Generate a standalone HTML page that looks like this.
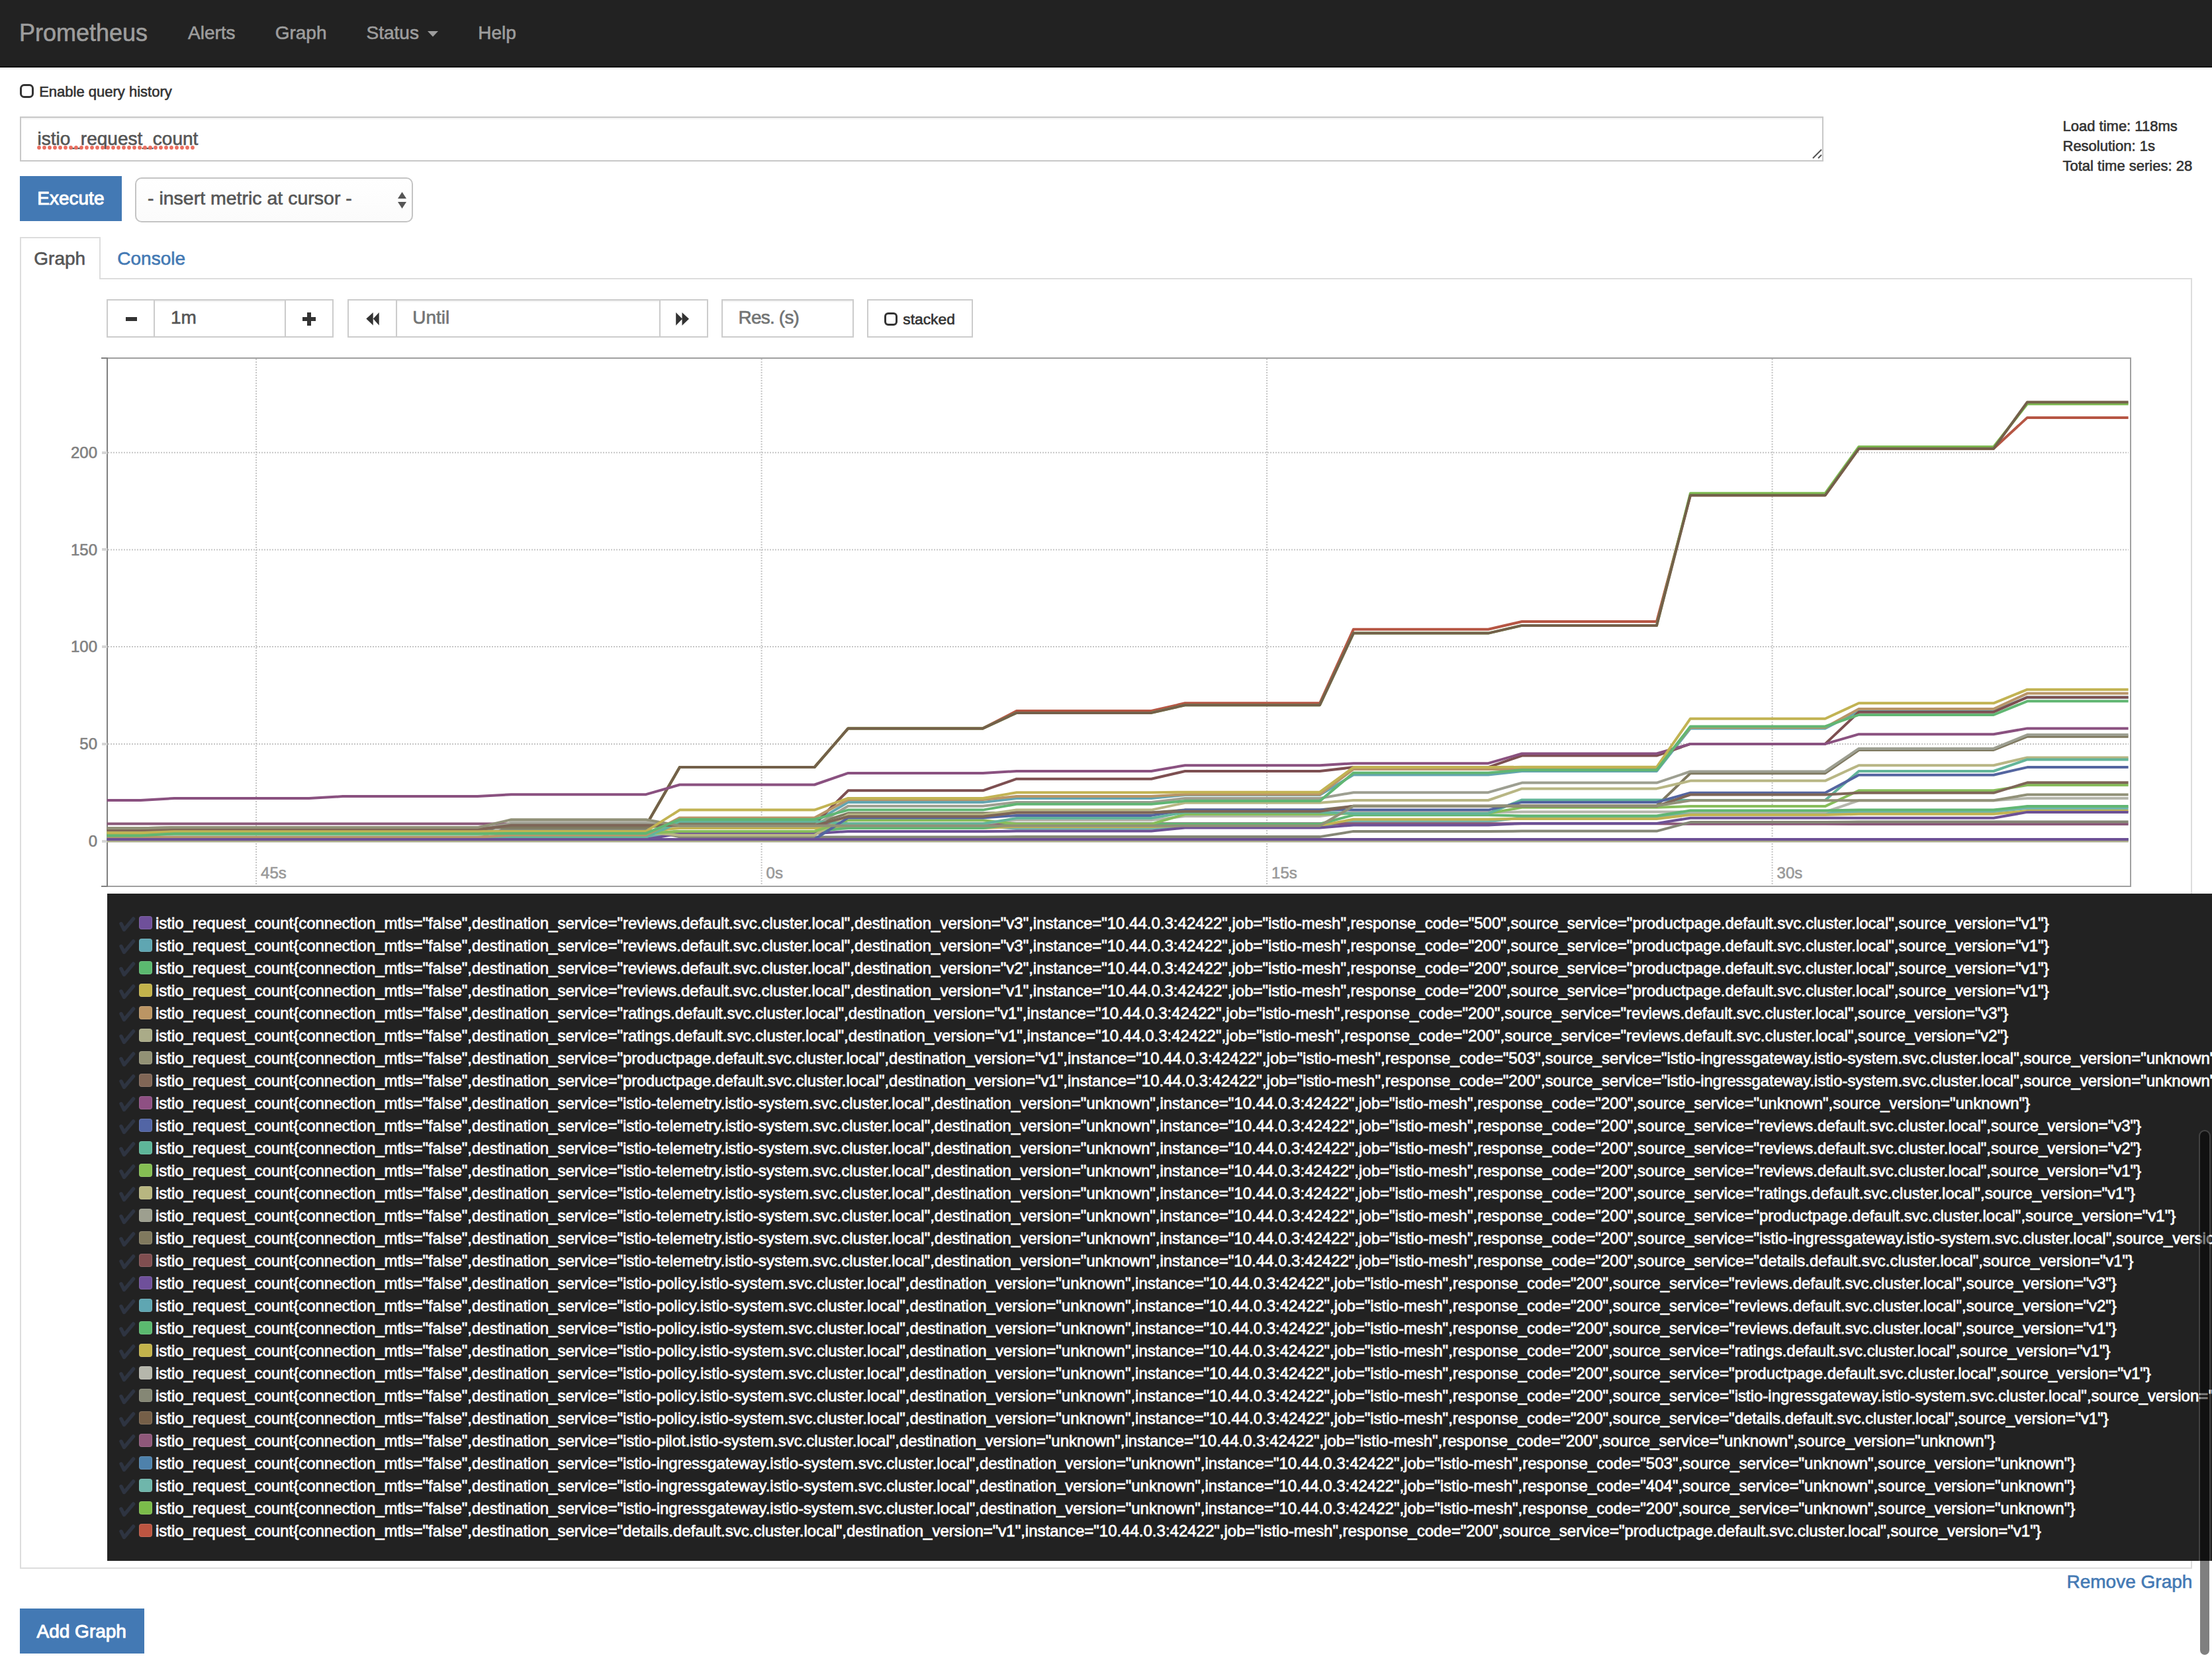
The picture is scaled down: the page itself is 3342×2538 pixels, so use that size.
<!DOCTYPE html>
<html><head><meta charset="utf-8"><style>
html,body{margin:0;padding:0;width:3342px;height:2538px;overflow:hidden;background:#fff;}
body{position:relative;font-family:"Liberation Sans", sans-serif;}
.t{position:absolute;white-space:nowrap;line-height:1;font-family:"Liberation Sans", sans-serif;-webkit-text-stroke:0.6px currentColor;}
.lr{position:absolute;left:235px;height:34px;line-height:34px;white-space:nowrap;font-size:24px;color:#fff;font-family:"Liberation Sans", sans-serif;-webkit-text-stroke:0.8px #fff;}
.ck{display:inline-block;width:32px;color:#34495e;opacity:.8;font-size:26px;}
.sw{position:absolute;left:210px;width:20px;height:20px;border-radius:4px;box-sizing:border-box;border:1px solid rgba(255,255,255,0.12);filter:saturate(0.85);}
</style></head><body>
<div style="position:absolute;left:0px;top:0px;width:3342px;height:100px;background:#222"></div><div style="position:absolute;left:0px;top:100px;width:3342px;height:2px;background:#080808"></div><div class="t" style="left:29px;top:31.93px;font-size:36px;color:#9d9d9d;">Prometheus</div><div class="t" style="left:284px;top:36.30px;font-size:28px;color:#9d9d9d;">Alerts</div><div class="t" style="left:415.7px;top:36.30px;font-size:28px;color:#9d9d9d;">Graph</div><div class="t" style="left:553.5px;top:36.30px;font-size:28px;color:#9d9d9d;">Status</div><svg style="position:absolute;left:646px;top:47px" width="16" height="9"><path d="M0,0H16L8,8.5Z" fill="#9d9d9d"/></svg><div class="t" style="left:722.3px;top:36.30px;font-size:28px;color:#9d9d9d;">Help</div><div style="position:absolute;left:30px;top:127.3px;width:20.700000000000003px;height:20.500000000000014px;box-sizing:border-box;border:3.6px solid #333;border-radius:6.5px;background:#fff"></div><div class="t" style="left:59.2px;top:127.88px;font-size:22px;color:#333;">Enable query history</div><div style="position:absolute;left:30px;top:176px;width:2725px;height:68px;box-sizing:border-box;border:2px solid #c8c8c8;background:#fff;box-shadow:inset 0 2px 2px rgba(0,0,0,.06)"></div><div class="t" style="left:56.5px;top:196.10px;font-size:28px;color:#555;">istio_request_count</div><svg style="position:absolute;left:0;top:220px" width="320" height="7"><g fill="#ea6f60"><circle cx="59" cy="3" r="2.9"/><circle cx="67" cy="3" r="2.9"/><circle cx="75" cy="3" r="2.9"/><circle cx="83" cy="3" r="2.9"/><circle cx="91" cy="3" r="2.9"/><circle cx="99" cy="3" r="2.9"/><circle cx="107" cy="3" r="2.9"/><circle cx="115" cy="3" r="2.9"/><circle cx="123" cy="3" r="2.9"/><circle cx="131" cy="3" r="2.9"/><circle cx="139" cy="3" r="2.9"/><circle cx="147" cy="3" r="2.9"/><circle cx="155" cy="3" r="2.9"/><circle cx="163" cy="3" r="2.9"/><circle cx="171" cy="3" r="2.9"/><circle cx="179" cy="3" r="2.9"/><circle cx="187" cy="3" r="2.9"/><circle cx="195" cy="3" r="2.9"/><circle cx="203" cy="3" r="2.9"/><circle cx="211" cy="3" r="2.9"/><circle cx="219" cy="3" r="2.9"/><circle cx="227" cy="3" r="2.9"/><circle cx="235" cy="3" r="2.9"/><circle cx="243" cy="3" r="2.9"/><circle cx="251" cy="3" r="2.9"/><circle cx="259" cy="3" r="2.9"/><circle cx="267" cy="3" r="2.9"/><circle cx="275" cy="3" r="2.9"/><circle cx="283" cy="3" r="2.9"/><circle cx="291" cy="3" r="2.9"/></g></svg><svg style="position:absolute;left:2737px;top:223px" width="22" height="20"><path d="M2,16L15,3M10,16L15,11" stroke="#555" stroke-width="2"/></svg><div class="t" style="left:3116.5px;top:180.38px;font-size:22px;color:#333;">Load time: 118ms</div><div class="t" style="left:3116.5px;top:210.38px;font-size:22px;color:#333;">Resolution: 1s</div><div class="t" style="left:3116.5px;top:239.88px;font-size:22px;color:#333;">Total time series: 28</div><div style="position:absolute;left:30px;top:266px;width:154px;height:68px;background:#4379b4;"></div><div class="t" style="left:56.3px;top:286.10px;font-size:28px;color:#fff;-webkit-text-stroke:1px #fff">Execute</div><div style="position:absolute;left:204px;top:268px;width:420px;height:67.5px;box-sizing:border-box;border:2px solid #c4c4c4;border-radius:10px;background:linear-gradient(#fff,#fbfbfb)"></div><div class="t" style="left:223px;top:284.87px;font-size:28.5px;color:#555;">- insert metric at cursor -</div><svg style="position:absolute;left:599px;top:288px" width="18" height="28"><path d="M2,12L8.5,2L15,12Z M2,17L8.5,27L15,17Z" fill="#555"/></svg><div style="position:absolute;left:30px;top:358px;width:122px;height:64px;box-sizing:border-box;border:2px solid #ddd;border-bottom:none;background:#fff"></div><div style="position:absolute;left:150px;top:420px;width:3162px;height:2px;background:#ddd"></div><div class="t" style="left:51.3px;top:376.60px;font-size:28px;color:#555;">Graph</div><div class="t" style="left:177.3px;top:376.60px;font-size:28px;color:#4379b4;">Console</div><div style="position:absolute;left:30px;top:422px;width:2px;height:1948px;background:#ddd"></div><div style="position:absolute;left:3310px;top:420px;width:2px;height:1950px;background:#ddd"></div><div style="position:absolute;left:30px;top:2368px;width:3282px;height:2px;background:#ddd"></div><div style="position:absolute;left:160.5px;top:452px;width:343.0px;height:57.5px;box-sizing:border-box;border:2px solid #ccc;background:#fff"></div><div style="position:absolute;left:233.5px;top:454px;width:196.5px;height:53.5px;box-shadow:inset 0 2px 2px rgba(0,0,0,.06)"></div><div style="position:absolute;left:231.5px;top:452px;width:2.0px;height:57.5px;background:#ccc"></div><div style="position:absolute;left:430px;top:452px;width:2px;height:57.5px;background:#ccc"></div><div style="position:absolute;left:189.5px;top:478.5px;width:17.5px;height:6.5px;background:#333"></div><div style="position:absolute;left:456.5px;top:478.5px;width:20.5px;height:6.5px;background:#333"></div><div style="position:absolute;left:463.5px;top:471.5px;width:6.5px;height:20.5px;background:#333"></div><div class="t" style="left:258px;top:466.10px;font-size:28px;color:#555;">1m</div><div style="position:absolute;left:524.5px;top:452px;width:545.0px;height:57.5px;box-sizing:border-box;border:2px solid #ccc;background:#fff"></div><div style="position:absolute;left:598px;top:452px;width:2px;height:57.5px;background:#ccc"></div><div style="position:absolute;left:996px;top:452px;width:2px;height:57.5px;background:#ccc"></div><svg style="position:absolute;left:540px;top:460px" width="50" height="40"><path d="M13.3,21.6L23.7,11.9V31.5Z M23.8,21.6L32.7,11.9V31.5Z" fill="#333"/></svg><svg style="position:absolute;left:1010px;top:460px" width="50" height="40"><path d="M11.2,11.9V31.7L20.9,21.7Z M20.5,11.9V31.7L31,21.7Z" fill="#333"/></svg><div class="t" style="left:623.3px;top:466.30px;font-size:28px;color:#727474;">Until</div><div style="position:absolute;left:1090.3px;top:452px;width:199.5px;height:57.5px;box-sizing:border-box;border:2px solid #ccc;background:#fff"></div><div class="t" style="left:1115.5px;top:466.30px;font-size:28px;color:#727474;letter-spacing:-0.8px">Res. (s)</div><div style="position:absolute;left:1310.2px;top:452px;width:159.5px;height:57.5px;box-sizing:border-box;border:2px solid #ccc;background:#fff"></div><div style="position:absolute;left:600px;top:454px;width:396px;height:53.5px;box-shadow:inset 0 2px 2px rgba(0,0,0,.06)"></div><div style="position:absolute;left:1092.3px;top:454px;width:195.5px;height:53.5px;box-shadow:inset 0 2px 2px rgba(0,0,0,.06)"></div><div style="position:absolute;left:1336px;top:471.5px;width:20px;height:20.5px;box-sizing:border-box;border:3.5px solid #333;border-radius:6px;background:#fff"></div><div class="t" style="left:1364.3px;top:471.00px;font-size:22.8px;color:#333;">stacked</div><div style="position:absolute;left:161px;top:540px;width:3059px;height:2px;background:#a0a0a0"></div><div style="position:absolute;left:3218px;top:540px;width:2px;height:800px;background:#a0a0a0"></div><div style="position:absolute;left:161px;top:1338px;width:3059px;height:2px;background:#a0a0a0"></div><div style="position:absolute;left:161px;top:540px;width:2px;height:800px;background:#808080"></div><div style="position:absolute;left:153px;top:540px;width:10px;height:2px;background:#808080"></div><div style="position:absolute;left:153px;top:1338px;width:10px;height:2px;background:#808080"></div><div style="position:absolute;left:154px;top:1268.6px;width:8px;height:4.0px;background:#d6d6d6"></div><div class="t" style="left:0px;top:1258.78px;font-size:24px;color:#808080;width:147px;text-align:right">0</div><div style="position:absolute;left:154px;top:1121.875px;width:8px;height:4.0px;background:#d6d6d6"></div><div class="t" style="left:0px;top:1112.06px;font-size:24px;color:#808080;width:147px;text-align:right">50</div><div style="position:absolute;left:154px;top:975.1499999999999px;width:8px;height:4.0px;background:#d6d6d6"></div><div class="t" style="left:0px;top:965.33px;font-size:24px;color:#808080;width:147px;text-align:right">100</div><div style="position:absolute;left:154px;top:828.425px;width:8px;height:4.0px;background:#d6d6d6"></div><div class="t" style="left:0px;top:818.61px;font-size:24px;color:#808080;width:147px;text-align:right">150</div><div style="position:absolute;left:154px;top:681.6999999999999px;width:8px;height:4.0px;background:#d6d6d6"></div><div class="t" style="left:0px;top:671.88px;font-size:24px;color:#808080;width:147px;text-align:right">200</div><div class="t" style="left:394.0999999999999px;top:1307.38px;font-size:24px;color:#999;">45s</div><div class="t" style="left:1157.6px;top:1307.38px;font-size:24px;color:#999;">0s</div><div class="t" style="left:1921.1px;top:1307.38px;font-size:24px;color:#999;">15s</div><div class="t" style="left:2684.6px;top:1307.38px;font-size:24px;color:#999;">30s</div><svg style="position:absolute;left:0;top:0;filter:saturate(0.78)" width="3342" height="1345"><line x1="163" y1="1270.6" x2="3216" y2="1270.6" stroke="#c6c6c6" stroke-width="2" stroke-dasharray="2 2"/><line x1="163" y1="1123.9" x2="3216" y2="1123.9" stroke="#c6c6c6" stroke-width="2" stroke-dasharray="2 2"/><line x1="163" y1="977.1" x2="3216" y2="977.1" stroke="#c6c6c6" stroke-width="2" stroke-dasharray="2 2"/><line x1="163" y1="830.4" x2="3216" y2="830.4" stroke="#c6c6c6" stroke-width="2" stroke-dasharray="2 2"/><line x1="163" y1="683.7" x2="3216" y2="683.7" stroke="#c6c6c6" stroke-width="2" stroke-dasharray="2 2"/><line x1="387.1" y1="542" x2="387.1" y2="1338" stroke="#c6c6c6" stroke-width="2" stroke-dasharray="2 2"/><line x1="1150.6" y1="542" x2="1150.6" y2="1338" stroke="#c6c6c6" stroke-width="2" stroke-dasharray="2 2"/><line x1="1914.1" y1="542" x2="1914.1" y2="1338" stroke="#c6c6c6" stroke-width="2" stroke-dasharray="2 2"/><line x1="2677.6" y1="542" x2="2677.6" y2="1338" stroke="#c6c6c6" stroke-width="2" stroke-dasharray="2 2"/><polyline points="161.6,1253.9 212.5,1253.9 263.4,1253.0 467.0,1253.0 517.9,1253.0 721.5,1253.0 772.4,1247.1 976.0,1247.1 1026.9,1159.1 1230.5,1159.1 1281.4,1100.4 1485.0,1100.4 1535.9,1074.0 1739.5,1074.0 1790.4,1062.3 1994.0,1062.3 2044.9,950.7 2248.5,950.7 2299.4,939.0 2503.0,939.0 2553.9,748.3 2757.5,748.3 2808.4,677.8 3012.0,677.8 3062.9,630.9 3215.6,630.9" fill="none" stroke="#cb513a" stroke-width="4" stroke-linejoin="round"/><polyline points="161.6,1253.9 212.5,1253.9 263.4,1253.0 467.0,1253.0 517.9,1253.0 721.5,1253.0 772.4,1247.1 976.0,1247.1 1026.9,1159.1 1230.5,1159.1 1281.4,1100.4 1485.0,1100.4 1535.9,1076.9 1739.5,1076.9 1790.4,1065.2 1994.0,1065.2 2044.9,956.6 2248.5,956.6 2299.4,944.9 2503.0,944.9 2553.9,745.3 2757.5,745.3 2808.4,674.9 3012.0,674.9 3062.9,610.3 3215.6,610.3" fill="none" stroke="#73c03a" stroke-width="4" stroke-linejoin="round"/><polyline points="161.6,1264.7 212.5,1264.7 263.4,1264.7 467.0,1264.7 517.9,1264.7 721.5,1264.7 772.4,1264.7 976.0,1264.7 1026.9,1255.9 1230.5,1255.9 1281.4,1247.4 1485.0,1247.4 1535.9,1251.8 1739.5,1251.8 1790.4,1247.7 1994.0,1247.7 2044.9,1241.3 2248.5,1241.3 2299.4,1235.1 2503.0,1235.1 2553.9,1228.6 2757.5,1228.6 2808.4,1226.3 3012.0,1226.3 3062.9,1221.0 3215.6,1221.0" fill="none" stroke="#65b9ac" stroke-width="4" stroke-linejoin="round"/><polyline points="161.6,1268.0 212.5,1268.0 263.4,1268.0 467.0,1268.0 517.9,1268.0 721.5,1268.0 772.4,1268.0 976.0,1268.0 1026.9,1268.0 1230.5,1268.0 1281.4,1268.0 1485.0,1268.0 1535.9,1268.0 1739.5,1268.0 1790.4,1268.0 1994.0,1268.0 2044.9,1268.0 2248.5,1268.0 2299.4,1268.0 2503.0,1268.0 2553.9,1268.0 2757.5,1268.0 2808.4,1268.0 3012.0,1268.0 3062.9,1268.0 3215.6,1268.0" fill="none" stroke="#4682b4" stroke-width="4" stroke-linejoin="round"/><polyline points="161.6,1244.5 212.5,1244.5 263.4,1244.5 467.0,1244.5 517.9,1244.5 721.5,1244.5 772.4,1244.5 976.0,1244.5 1026.9,1244.2 1230.5,1244.2 1281.4,1244.2 1485.0,1244.2 1535.9,1244.2 1739.5,1244.2 1790.4,1244.2 1994.0,1244.2 2044.9,1244.2 2248.5,1244.2 2299.4,1244.2 2503.0,1244.2 2553.9,1244.8 2757.5,1244.8 2808.4,1245.1 3012.0,1245.1 3062.9,1245.1 3215.6,1245.1" fill="none" stroke="#96557e" stroke-width="4" stroke-linejoin="round"/><polyline points="161.6,1253.9 212.5,1253.9 263.4,1253.0 467.0,1253.0 517.9,1253.0 721.5,1253.0 772.4,1247.1 976.0,1247.1 1026.9,1159.1 1230.5,1159.1 1281.4,1100.4 1485.0,1100.4 1535.9,1076.9 1739.5,1076.9 1790.4,1065.2 1994.0,1065.2 2044.9,956.6 2248.5,956.6 2299.4,944.9 2503.0,944.9 2553.9,748.3 2757.5,748.3 2808.4,677.8 3012.0,677.8 3062.9,607.4 3215.6,607.4" fill="none" stroke="#785f43" stroke-width="4" stroke-linejoin="round"/><polyline points="161.6,1253.9 212.5,1253.9 263.4,1253.0 467.0,1253.0 517.9,1253.0 721.5,1253.0 772.4,1253.0 976.0,1253.0 1026.9,1264.4 1230.5,1264.4 1281.4,1264.4 1485.0,1264.4 1535.9,1264.1 1739.5,1264.1 1790.4,1264.1 1994.0,1264.1 2044.9,1255.9 2248.5,1255.9 2299.4,1255.6 2503.0,1255.6 2553.9,1242.1 2757.5,1242.1 2808.4,1241.5 3012.0,1241.5 3062.9,1241.5 3215.6,1241.5" fill="none" stroke="#858772" stroke-width="4" stroke-linejoin="round"/><polyline points="161.6,1268.0 212.5,1268.0 263.4,1268.0 467.0,1268.0 517.9,1268.0 721.5,1268.0 772.4,1242.1 976.0,1242.1 1026.9,1250.1 1230.5,1250.1 1281.4,1244.2 1485.0,1244.2 1535.9,1238.9 1739.5,1238.9 1790.4,1233.0 1994.0,1233.0 2044.9,1226.9 2248.5,1226.9 2299.4,1226.6 2503.0,1226.6 2553.9,1226.6 2757.5,1226.6 2808.4,1209.3 3012.0,1209.3 3062.9,1206.0 3215.6,1206.0" fill="none" stroke="#b5b6a9" stroke-width="4" stroke-linejoin="round"/><polyline points="161.6,1256.5 212.5,1256.5 263.4,1256.5 467.0,1256.5 517.9,1256.5 721.5,1256.5 772.4,1255.9 976.0,1255.9 1026.9,1250.9 1230.5,1250.9 1281.4,1250.9 1485.0,1250.9 1535.9,1248.9 1739.5,1248.9 1790.4,1247.1 1994.0,1247.1 2044.9,1237.7 2248.5,1237.7 2299.4,1236.9 2503.0,1236.9 2553.9,1231.0 2757.5,1231.0 2808.4,1229.8 3012.0,1229.8 3062.9,1225.1 3215.6,1225.1" fill="none" stroke="#c7b439" stroke-width="4" stroke-linejoin="round"/><polyline points="161.6,1259.4 212.5,1259.4 263.4,1259.4 467.0,1259.4 517.9,1259.4 721.5,1259.4 772.4,1258.9 976.0,1258.9 1026.9,1255.9 1230.5,1255.9 1281.4,1250.9 1485.0,1250.9 1535.9,1244.8 1739.5,1244.8 1790.4,1244.8 1994.0,1244.8 2044.9,1231.3 2248.5,1231.3 2299.4,1232.5 2503.0,1232.5 2553.9,1224.5 2757.5,1224.5 2808.4,1223.6 3012.0,1223.6 3062.9,1218.1 3215.6,1218.1" fill="none" stroke="#4fbd66" stroke-width="4" stroke-linejoin="round"/><polyline points="161.6,1264.7 212.5,1264.7 263.4,1264.7 467.0,1264.7 517.9,1264.7 721.5,1264.7 772.4,1264.7 976.0,1264.7 1026.9,1242.1 1230.5,1242.1 1281.4,1211.9 1485.0,1211.9 1535.9,1206.0 1739.5,1206.0 1790.4,1201.1 1994.0,1201.1 2044.9,1170.5 2248.5,1170.5 2299.4,1165.0 2503.0,1165.0 2553.9,1100.4 2757.5,1100.4 2808.4,1074.0 3012.0,1074.0 3062.9,1053.4 3215.6,1053.4" fill="none" stroke="#55a9b7" stroke-width="4" stroke-linejoin="round"/><polyline points="161.6,1268.0 212.5,1268.0 263.4,1268.0 467.0,1268.0 517.9,1268.0 721.5,1268.0 772.4,1268.0 976.0,1268.0 1026.9,1259.2 1230.5,1259.2 1281.4,1255.9 1485.0,1255.9 1535.9,1255.6 1739.5,1255.6 1790.4,1250.4 1994.0,1250.4 2044.9,1246.5 2248.5,1246.5 2299.4,1243.9 2503.0,1243.9 2553.9,1235.7 2757.5,1235.7 2808.4,1235.7 3012.0,1235.7 3062.9,1226.9 3215.6,1226.9" fill="none" stroke="#724ea5" stroke-width="4" stroke-linejoin="round"/><polyline points="161.6,1253.9 212.5,1253.9 263.4,1253.0 467.0,1253.0 517.9,1253.0 721.5,1253.0 772.4,1247.1 976.0,1247.1 1026.9,1244.8 1230.5,1244.8 1281.4,1194.3 1485.0,1194.3 1535.9,1176.7 1739.5,1176.7 1790.4,1165.0 1994.0,1165.0 2044.9,1159.1 2248.5,1159.1 2299.4,1141.5 2503.0,1141.5 2553.9,1123.9 2757.5,1123.9 2808.4,1075.7 3012.0,1075.7 3062.9,1053.4 3215.6,1053.4" fill="none" stroke="#874c4f" stroke-width="4" stroke-linejoin="round"/><polyline points="161.6,1251.2 212.5,1251.2 263.4,1250.1 467.0,1250.1 517.9,1250.1 721.5,1250.1 772.4,1250.1 976.0,1250.1 1026.9,1244.8 1230.5,1244.8 1281.4,1228.6 1485.0,1228.6 1535.9,1227.5 1739.5,1227.5 1790.4,1223.6 1994.0,1223.6 2044.9,1217.8 2248.5,1217.8 2299.4,1217.2 2503.0,1217.2 2553.9,1168.2 2757.5,1168.2 2808.4,1133.0 3012.0,1133.0 3062.9,1112.7 3215.6,1112.7" fill="none" stroke="#817959" stroke-width="4" stroke-linejoin="round"/><polyline points="161.6,1253.9 212.5,1253.9 263.4,1253.0 467.0,1253.0 517.9,1253.0 721.5,1253.0 772.4,1244.2 976.0,1244.2 1026.9,1247.4 1230.5,1247.4 1281.4,1217.8 1485.0,1217.8 1535.9,1211.9 1739.5,1211.9 1790.4,1206.0 1994.0,1206.0 2044.9,1197.2 2248.5,1197.2 2299.4,1182.6 2503.0,1182.6 2553.9,1165.5 2757.5,1165.5 2808.4,1130.9 3012.0,1130.9 3062.9,1110.1 3215.6,1110.1" fill="none" stroke="#9d9f8d" stroke-width="4" stroke-linejoin="round"/><polyline points="161.6,1257.4 212.5,1257.4 263.4,1257.4 467.0,1257.4 517.9,1257.4 721.5,1257.4 772.4,1257.4 976.0,1257.4 1026.9,1261.8 1230.5,1261.8 1281.4,1230.7 1485.0,1230.7 1535.9,1223.6 1739.5,1223.6 1790.4,1212.8 1994.0,1212.8 2044.9,1209.0 2248.5,1209.0 2299.4,1191.4 2503.0,1191.4 2553.9,1179.6 2757.5,1179.6 2808.4,1156.2 3012.0,1156.2 3062.9,1144.4 3215.6,1144.4" fill="none" stroke="#b9b777" stroke-width="4" stroke-linejoin="round"/><polyline points="161.6,1259.4 212.5,1259.4 263.4,1259.4 467.0,1259.4 517.9,1259.4 721.5,1259.4 772.4,1258.9 976.0,1258.9 1026.9,1255.9 1230.5,1255.9 1281.4,1239.2 1485.0,1239.2 1535.9,1244.8 1739.5,1244.8 1790.4,1230.1 1994.0,1230.1 2044.9,1228.9 2248.5,1228.9 2299.4,1219.8 2503.0,1219.8 2553.9,1218.1 2757.5,1218.1 2808.4,1194.3 3012.0,1194.3 3062.9,1186.1 3215.6,1186.1" fill="none" stroke="#7ec244" stroke-width="4" stroke-linejoin="round"/><polyline points="161.6,1264.7 212.5,1264.7 263.4,1264.7 467.0,1264.7 517.9,1264.7 721.5,1264.7 772.4,1264.7 976.0,1264.7 1026.9,1240.7 1230.5,1240.7 1281.4,1244.5 1485.0,1244.5 1535.9,1236.0 1739.5,1236.0 1790.4,1227.2 1994.0,1227.2 2044.9,1228.9 2248.5,1228.9 2299.4,1208.4 2503.0,1208.4 2553.9,1209.0 2757.5,1209.0 2808.4,1165.0 3012.0,1165.0 3062.9,1147.4 3215.6,1147.4" fill="none" stroke="#52ba98" stroke-width="4" stroke-linejoin="round"/><polyline points="161.6,1268.0 212.5,1268.0 263.4,1268.0 467.0,1268.0 517.9,1268.0 721.5,1268.0 772.4,1268.0 976.0,1268.0 1026.9,1268.0 1230.5,1268.0 1281.4,1235.4 1485.0,1235.4 1535.9,1231.9 1739.5,1231.9 1790.4,1223.6 1994.0,1223.6 2044.9,1223.6 2248.5,1223.6 2299.4,1211.9 2503.0,1211.9 2553.9,1197.8 2757.5,1197.8 2808.4,1170.8 3012.0,1170.8 3062.9,1159.1 3215.6,1159.1" fill="none" stroke="#4f65b0" stroke-width="4" stroke-linejoin="round"/><polyline points="161.6,1209.0 212.5,1209.0 263.4,1206.0 467.0,1206.0 517.9,1203.1 721.5,1203.1 772.4,1200.2 976.0,1200.2 1026.9,1185.5 1230.5,1185.5 1281.4,1167.9 1485.0,1167.9 1535.9,1165.0 1739.5,1165.0 1790.4,1156.2 1994.0,1156.2 2044.9,1153.2 2248.5,1153.2 2299.4,1138.5 2503.0,1138.5 2553.9,1123.9 2757.5,1123.9 2808.4,1109.2 3012.0,1109.2 3062.9,1100.4 3215.6,1100.4" fill="none" stroke="#964d89" stroke-width="4" stroke-linejoin="round"/><polyline points="161.6,1253.9 212.5,1253.9 263.4,1253.0 467.0,1253.0 517.9,1253.0 721.5,1253.0 772.4,1246.8 976.0,1246.8 1026.9,1247.1 1230.5,1247.1 1281.4,1233.6 1485.0,1233.6 1535.9,1227.5 1739.5,1227.5 1790.4,1225.7 1994.0,1225.7 2044.9,1217.8 2248.5,1217.8 2299.4,1217.8 2503.0,1217.8 2553.9,1200.5 2757.5,1200.5 2808.4,1197.8 3012.0,1197.8 3062.9,1182.3 3215.6,1182.3" fill="none" stroke="#846552" stroke-width="4" stroke-linejoin="round"/><polyline points="161.6,1251.2 212.5,1251.2 263.4,1250.1 467.0,1250.1 517.9,1250.1 721.5,1250.1 772.4,1238.3 976.0,1238.3 1026.9,1247.4 1230.5,1247.4 1281.4,1247.4 1485.0,1247.4 1535.9,1247.4 1739.5,1247.4 1790.4,1247.4 1994.0,1247.4 2044.9,1217.8 2248.5,1217.8 2299.4,1217.2 2503.0,1217.2 2553.9,1209.3 2757.5,1209.3 2808.4,1209.3 3012.0,1209.3 3062.9,1200.5 3215.6,1200.5" fill="none" stroke="#929171" stroke-width="4" stroke-linejoin="round"/><polyline points="161.6,1270.6 212.5,1270.6 263.4,1270.6 467.0,1270.6 517.9,1270.6 721.5,1270.6 772.4,1270.6 976.0,1270.6 1026.9,1270.6 1230.5,1270.6 1281.4,1270.6 1485.0,1270.6 1535.9,1270.6 1739.5,1270.6 1790.4,1270.6 1994.0,1270.6 2044.9,1270.6 2248.5,1270.6 2299.4,1270.6 2503.0,1270.6 2553.9,1270.6 2757.5,1270.6 2808.4,1270.6 3012.0,1270.6 3062.9,1270.6 3215.6,1270.6" fill="none" stroke="#aaac82" stroke-width="4" stroke-linejoin="round"/><polyline points="161.6,1264.7 212.5,1264.7 263.4,1264.7 467.0,1264.7 517.9,1264.7 721.5,1264.7 772.4,1261.5 976.0,1261.5 1026.9,1235.4 1230.5,1235.4 1281.4,1208.1 1485.0,1208.1 1535.9,1203.1 1739.5,1203.1 1790.4,1200.2 1994.0,1200.2 2044.9,1162.0 2248.5,1162.0 2299.4,1162.0 2503.0,1162.0 2553.9,1098.9 2757.5,1098.9 2808.4,1071.1 3012.0,1071.1 3062.9,1047.6 3215.6,1047.6" fill="none" stroke="#c1945a" stroke-width="4" stroke-linejoin="round"/><polyline points="161.6,1258.3 212.5,1258.3 263.4,1256.2 467.0,1256.2 517.9,1256.2 721.5,1256.2 772.4,1255.9 976.0,1255.9 1026.9,1223.6 1230.5,1223.6 1281.4,1206.0 1485.0,1206.0 1535.9,1197.2 1739.5,1197.2 1790.4,1196.7 1994.0,1196.7 2044.9,1159.1 2248.5,1159.1 2299.4,1158.8 2503.0,1158.8 2553.9,1085.7 2757.5,1085.7 2808.4,1062.3 3012.0,1062.3 3062.9,1041.7 3215.6,1041.7" fill="none" stroke="#c7b439" stroke-width="4" stroke-linejoin="round"/><polyline points="161.6,1262.4 212.5,1262.4 263.4,1259.4 467.0,1259.4 517.9,1259.4 721.5,1259.4 772.4,1258.9 976.0,1258.9 1026.9,1238.0 1230.5,1238.0 1281.4,1223.6 1485.0,1223.6 1535.9,1214.8 1739.5,1214.8 1790.4,1210.1 1994.0,1210.1 2044.9,1167.6 2248.5,1167.6 2299.4,1163.2 2503.0,1163.2 2553.9,1097.5 2757.5,1097.5 2808.4,1079.9 3012.0,1079.9 3062.9,1059.3 3215.6,1059.3" fill="none" stroke="#4fbd66" stroke-width="4" stroke-linejoin="round"/><polyline points="161.6,1268.0 212.5,1268.0 263.4,1268.0 467.0,1268.0 517.9,1268.0 721.5,1268.0 772.4,1268.0 976.0,1268.0 1026.9,1268.0 1230.5,1268.0 1281.4,1268.0 1485.0,1268.0 1535.9,1268.0 1739.5,1268.0 1790.4,1268.0 1994.0,1268.0 2044.9,1268.0 2248.5,1268.0 2299.4,1268.0 2503.0,1268.0 2553.9,1268.0 2757.5,1268.0 2808.4,1268.0 3012.0,1268.0 3062.9,1268.0 3215.6,1268.0" fill="none" stroke="#55a9b7" stroke-width="4" stroke-linejoin="round"/><polyline points="161.6,1268.0 212.5,1268.0 263.4,1268.0 467.0,1268.0 517.9,1268.0 721.5,1268.0 772.4,1268.0 976.0,1268.0 1026.9,1268.0 1230.5,1268.0 1281.4,1268.0 1485.0,1268.0 1535.9,1268.0 1739.5,1268.0 1790.4,1268.0 1994.0,1268.0 2044.9,1268.0 2248.5,1268.0 2299.4,1268.0 2503.0,1268.0 2553.9,1268.0 2757.5,1268.0 2808.4,1268.0 3012.0,1268.0 3062.9,1268.0 3215.6,1268.0" fill="none" stroke="#724ea5" stroke-width="4" stroke-linejoin="round"/></svg><div style="position:absolute;left:162px;top:1350px;width:3180px;height:1008px;background:#222"></div><div style="position:absolute;left:0;top:0;width:3342px;height:2538px;overflow:hidden"><svg style="position:absolute;left:176px;top:1382.8px" width="32" height="26"><path d="M7,12.5L11.5,21.5L25.5,5" fill="none" stroke="#2e3441" stroke-width="5.5" stroke-linecap="round" stroke-linejoin="round"/></svg><div class="sw" style="top:1384.2px;background:#724ea5"></div><div class="lr" style="top:1377.8px">istio_request_count{connection_mtls=&quot;false&quot;,destination_service=&quot;reviews.default.svc.cluster.local&quot;,destination_version=&quot;v3&quot;,instance=&quot;10.44.0.3:42422&quot;,job=&quot;istio-mesh&quot;,response_code=&quot;500&quot;,source_service=&quot;productpage.default.svc.cluster.local&quot;,source_version=&quot;v1&quot;}</div><svg style="position:absolute;left:176px;top:1416.8px" width="32" height="26"><path d="M7,12.5L11.5,21.5L25.5,5" fill="none" stroke="#2e3441" stroke-width="5.5" stroke-linecap="round" stroke-linejoin="round"/></svg><div class="sw" style="top:1418.2px;background:#55a9b7"></div><div class="lr" style="top:1411.8px">istio_request_count{connection_mtls=&quot;false&quot;,destination_service=&quot;reviews.default.svc.cluster.local&quot;,destination_version=&quot;v3&quot;,instance=&quot;10.44.0.3:42422&quot;,job=&quot;istio-mesh&quot;,response_code=&quot;200&quot;,source_service=&quot;productpage.default.svc.cluster.local&quot;,source_version=&quot;v1&quot;}</div><svg style="position:absolute;left:176px;top:1450.8px" width="32" height="26"><path d="M7,12.5L11.5,21.5L25.5,5" fill="none" stroke="#2e3441" stroke-width="5.5" stroke-linecap="round" stroke-linejoin="round"/></svg><div class="sw" style="top:1452.2px;background:#4fbd66"></div><div class="lr" style="top:1445.8px">istio_request_count{connection_mtls=&quot;false&quot;,destination_service=&quot;reviews.default.svc.cluster.local&quot;,destination_version=&quot;v2&quot;,instance=&quot;10.44.0.3:42422&quot;,job=&quot;istio-mesh&quot;,response_code=&quot;200&quot;,source_service=&quot;productpage.default.svc.cluster.local&quot;,source_version=&quot;v1&quot;}</div><svg style="position:absolute;left:176px;top:1484.8px" width="32" height="26"><path d="M7,12.5L11.5,21.5L25.5,5" fill="none" stroke="#2e3441" stroke-width="5.5" stroke-linecap="round" stroke-linejoin="round"/></svg><div class="sw" style="top:1486.2px;background:#c7b439"></div><div class="lr" style="top:1479.8px">istio_request_count{connection_mtls=&quot;false&quot;,destination_service=&quot;reviews.default.svc.cluster.local&quot;,destination_version=&quot;v1&quot;,instance=&quot;10.44.0.3:42422&quot;,job=&quot;istio-mesh&quot;,response_code=&quot;200&quot;,source_service=&quot;productpage.default.svc.cluster.local&quot;,source_version=&quot;v1&quot;}</div><svg style="position:absolute;left:176px;top:1518.8px" width="32" height="26"><path d="M7,12.5L11.5,21.5L25.5,5" fill="none" stroke="#2e3441" stroke-width="5.5" stroke-linecap="round" stroke-linejoin="round"/></svg><div class="sw" style="top:1520.2px;background:#c1945a"></div><div class="lr" style="top:1513.8px">istio_request_count{connection_mtls=&quot;false&quot;,destination_service=&quot;ratings.default.svc.cluster.local&quot;,destination_version=&quot;v1&quot;,instance=&quot;10.44.0.3:42422&quot;,job=&quot;istio-mesh&quot;,response_code=&quot;200&quot;,source_service=&quot;reviews.default.svc.cluster.local&quot;,source_version=&quot;v3&quot;}</div><svg style="position:absolute;left:176px;top:1552.8px" width="32" height="26"><path d="M7,12.5L11.5,21.5L25.5,5" fill="none" stroke="#2e3441" stroke-width="5.5" stroke-linecap="round" stroke-linejoin="round"/></svg><div class="sw" style="top:1554.2px;background:#aaac82"></div><div class="lr" style="top:1547.8px">istio_request_count{connection_mtls=&quot;false&quot;,destination_service=&quot;ratings.default.svc.cluster.local&quot;,destination_version=&quot;v1&quot;,instance=&quot;10.44.0.3:42422&quot;,job=&quot;istio-mesh&quot;,response_code=&quot;200&quot;,source_service=&quot;reviews.default.svc.cluster.local&quot;,source_version=&quot;v2&quot;}</div><svg style="position:absolute;left:176px;top:1586.8px" width="32" height="26"><path d="M7,12.5L11.5,21.5L25.5,5" fill="none" stroke="#2e3441" stroke-width="5.5" stroke-linecap="round" stroke-linejoin="round"/></svg><div class="sw" style="top:1588.2px;background:#929171"></div><div class="lr" style="top:1581.8px">istio_request_count{connection_mtls=&quot;false&quot;,destination_service=&quot;productpage.default.svc.cluster.local&quot;,destination_version=&quot;v1&quot;,instance=&quot;10.44.0.3:42422&quot;,job=&quot;istio-mesh&quot;,response_code=&quot;503&quot;,source_service=&quot;istio-ingressgateway.istio-system.svc.cluster.local&quot;,source_version=&quot;unknown&quot;}</div><svg style="position:absolute;left:176px;top:1620.8px" width="32" height="26"><path d="M7,12.5L11.5,21.5L25.5,5" fill="none" stroke="#2e3441" stroke-width="5.5" stroke-linecap="round" stroke-linejoin="round"/></svg><div class="sw" style="top:1622.2px;background:#846552"></div><div class="lr" style="top:1615.8px">istio_request_count{connection_mtls=&quot;false&quot;,destination_service=&quot;productpage.default.svc.cluster.local&quot;,destination_version=&quot;v1&quot;,instance=&quot;10.44.0.3:42422&quot;,job=&quot;istio-mesh&quot;,response_code=&quot;200&quot;,source_service=&quot;istio-ingressgateway.istio-system.svc.cluster.local&quot;,source_version=&quot;unknown&quot;}</div><svg style="position:absolute;left:176px;top:1654.8px" width="32" height="26"><path d="M7,12.5L11.5,21.5L25.5,5" fill="none" stroke="#2e3441" stroke-width="5.5" stroke-linecap="round" stroke-linejoin="round"/></svg><div class="sw" style="top:1656.2px;background:#964d89"></div><div class="lr" style="top:1649.8px">istio_request_count{connection_mtls=&quot;false&quot;,destination_service=&quot;istio-telemetry.istio-system.svc.cluster.local&quot;,destination_version=&quot;unknown&quot;,instance=&quot;10.44.0.3:42422&quot;,job=&quot;istio-mesh&quot;,response_code=&quot;200&quot;,source_service=&quot;unknown&quot;,source_version=&quot;unknown&quot;}</div><svg style="position:absolute;left:176px;top:1688.8px" width="32" height="26"><path d="M7,12.5L11.5,21.5L25.5,5" fill="none" stroke="#2e3441" stroke-width="5.5" stroke-linecap="round" stroke-linejoin="round"/></svg><div class="sw" style="top:1690.2px;background:#4f65b0"></div><div class="lr" style="top:1683.8px">istio_request_count{connection_mtls=&quot;false&quot;,destination_service=&quot;istio-telemetry.istio-system.svc.cluster.local&quot;,destination_version=&quot;unknown&quot;,instance=&quot;10.44.0.3:42422&quot;,job=&quot;istio-mesh&quot;,response_code=&quot;200&quot;,source_service=&quot;reviews.default.svc.cluster.local&quot;,source_version=&quot;v3&quot;}</div><svg style="position:absolute;left:176px;top:1722.8px" width="32" height="26"><path d="M7,12.5L11.5,21.5L25.5,5" fill="none" stroke="#2e3441" stroke-width="5.5" stroke-linecap="round" stroke-linejoin="round"/></svg><div class="sw" style="top:1724.2px;background:#52ba98"></div><div class="lr" style="top:1717.8px">istio_request_count{connection_mtls=&quot;false&quot;,destination_service=&quot;istio-telemetry.istio-system.svc.cluster.local&quot;,destination_version=&quot;unknown&quot;,instance=&quot;10.44.0.3:42422&quot;,job=&quot;istio-mesh&quot;,response_code=&quot;200&quot;,source_service=&quot;reviews.default.svc.cluster.local&quot;,source_version=&quot;v2&quot;}</div><svg style="position:absolute;left:176px;top:1756.8px" width="32" height="26"><path d="M7,12.5L11.5,21.5L25.5,5" fill="none" stroke="#2e3441" stroke-width="5.5" stroke-linecap="round" stroke-linejoin="round"/></svg><div class="sw" style="top:1758.2px;background:#7ec244"></div><div class="lr" style="top:1751.8px">istio_request_count{connection_mtls=&quot;false&quot;,destination_service=&quot;istio-telemetry.istio-system.svc.cluster.local&quot;,destination_version=&quot;unknown&quot;,instance=&quot;10.44.0.3:42422&quot;,job=&quot;istio-mesh&quot;,response_code=&quot;200&quot;,source_service=&quot;reviews.default.svc.cluster.local&quot;,source_version=&quot;v1&quot;}</div><svg style="position:absolute;left:176px;top:1790.8px" width="32" height="26"><path d="M7,12.5L11.5,21.5L25.5,5" fill="none" stroke="#2e3441" stroke-width="5.5" stroke-linecap="round" stroke-linejoin="round"/></svg><div class="sw" style="top:1792.2px;background:#b9b777"></div><div class="lr" style="top:1785.8px">istio_request_count{connection_mtls=&quot;false&quot;,destination_service=&quot;istio-telemetry.istio-system.svc.cluster.local&quot;,destination_version=&quot;unknown&quot;,instance=&quot;10.44.0.3:42422&quot;,job=&quot;istio-mesh&quot;,response_code=&quot;200&quot;,source_service=&quot;ratings.default.svc.cluster.local&quot;,source_version=&quot;v1&quot;}</div><svg style="position:absolute;left:176px;top:1824.8px" width="32" height="26"><path d="M7,12.5L11.5,21.5L25.5,5" fill="none" stroke="#2e3441" stroke-width="5.5" stroke-linecap="round" stroke-linejoin="round"/></svg><div class="sw" style="top:1826.2px;background:#9d9f8d"></div><div class="lr" style="top:1819.8px">istio_request_count{connection_mtls=&quot;false&quot;,destination_service=&quot;istio-telemetry.istio-system.svc.cluster.local&quot;,destination_version=&quot;unknown&quot;,instance=&quot;10.44.0.3:42422&quot;,job=&quot;istio-mesh&quot;,response_code=&quot;200&quot;,source_service=&quot;productpage.default.svc.cluster.local&quot;,source_version=&quot;v1&quot;}</div><svg style="position:absolute;left:176px;top:1858.8px" width="32" height="26"><path d="M7,12.5L11.5,21.5L25.5,5" fill="none" stroke="#2e3441" stroke-width="5.5" stroke-linecap="round" stroke-linejoin="round"/></svg><div class="sw" style="top:1860.2px;background:#817959"></div><div class="lr" style="top:1853.8px">istio_request_count{connection_mtls=&quot;false&quot;,destination_service=&quot;istio-telemetry.istio-system.svc.cluster.local&quot;,destination_version=&quot;unknown&quot;,instance=&quot;10.44.0.3:42422&quot;,job=&quot;istio-mesh&quot;,response_code=&quot;200&quot;,source_service=&quot;istio-ingressgateway.istio-system.svc.cluster.local&quot;,source_version=&quot;unknown&quot;}</div><svg style="position:absolute;left:176px;top:1892.8px" width="32" height="26"><path d="M7,12.5L11.5,21.5L25.5,5" fill="none" stroke="#2e3441" stroke-width="5.5" stroke-linecap="round" stroke-linejoin="round"/></svg><div class="sw" style="top:1894.2px;background:#874c4f"></div><div class="lr" style="top:1887.8px">istio_request_count{connection_mtls=&quot;false&quot;,destination_service=&quot;istio-telemetry.istio-system.svc.cluster.local&quot;,destination_version=&quot;unknown&quot;,instance=&quot;10.44.0.3:42422&quot;,job=&quot;istio-mesh&quot;,response_code=&quot;200&quot;,source_service=&quot;details.default.svc.cluster.local&quot;,source_version=&quot;v1&quot;}</div><svg style="position:absolute;left:176px;top:1926.8px" width="32" height="26"><path d="M7,12.5L11.5,21.5L25.5,5" fill="none" stroke="#2e3441" stroke-width="5.5" stroke-linecap="round" stroke-linejoin="round"/></svg><div class="sw" style="top:1928.2px;background:#724ea5"></div><div class="lr" style="top:1921.8px">istio_request_count{connection_mtls=&quot;false&quot;,destination_service=&quot;istio-policy.istio-system.svc.cluster.local&quot;,destination_version=&quot;unknown&quot;,instance=&quot;10.44.0.3:42422&quot;,job=&quot;istio-mesh&quot;,response_code=&quot;200&quot;,source_service=&quot;reviews.default.svc.cluster.local&quot;,source_version=&quot;v3&quot;}</div><svg style="position:absolute;left:176px;top:1960.8px" width="32" height="26"><path d="M7,12.5L11.5,21.5L25.5,5" fill="none" stroke="#2e3441" stroke-width="5.5" stroke-linecap="round" stroke-linejoin="round"/></svg><div class="sw" style="top:1962.2px;background:#55a9b7"></div><div class="lr" style="top:1955.8px">istio_request_count{connection_mtls=&quot;false&quot;,destination_service=&quot;istio-policy.istio-system.svc.cluster.local&quot;,destination_version=&quot;unknown&quot;,instance=&quot;10.44.0.3:42422&quot;,job=&quot;istio-mesh&quot;,response_code=&quot;200&quot;,source_service=&quot;reviews.default.svc.cluster.local&quot;,source_version=&quot;v2&quot;}</div><svg style="position:absolute;left:176px;top:1994.8px" width="32" height="26"><path d="M7,12.5L11.5,21.5L25.5,5" fill="none" stroke="#2e3441" stroke-width="5.5" stroke-linecap="round" stroke-linejoin="round"/></svg><div class="sw" style="top:1996.2px;background:#4fbd66"></div><div class="lr" style="top:1989.8px">istio_request_count{connection_mtls=&quot;false&quot;,destination_service=&quot;istio-policy.istio-system.svc.cluster.local&quot;,destination_version=&quot;unknown&quot;,instance=&quot;10.44.0.3:42422&quot;,job=&quot;istio-mesh&quot;,response_code=&quot;200&quot;,source_service=&quot;reviews.default.svc.cluster.local&quot;,source_version=&quot;v1&quot;}</div><svg style="position:absolute;left:176px;top:2028.8px" width="32" height="26"><path d="M7,12.5L11.5,21.5L25.5,5" fill="none" stroke="#2e3441" stroke-width="5.5" stroke-linecap="round" stroke-linejoin="round"/></svg><div class="sw" style="top:2030.2px;background:#c7b439"></div><div class="lr" style="top:2023.8px">istio_request_count{connection_mtls=&quot;false&quot;,destination_service=&quot;istio-policy.istio-system.svc.cluster.local&quot;,destination_version=&quot;unknown&quot;,instance=&quot;10.44.0.3:42422&quot;,job=&quot;istio-mesh&quot;,response_code=&quot;200&quot;,source_service=&quot;ratings.default.svc.cluster.local&quot;,source_version=&quot;v1&quot;}</div><svg style="position:absolute;left:176px;top:2062.8px" width="32" height="26"><path d="M7,12.5L11.5,21.5L25.5,5" fill="none" stroke="#2e3441" stroke-width="5.5" stroke-linecap="round" stroke-linejoin="round"/></svg><div class="sw" style="top:2064.2px;background:#b5b6a9"></div><div class="lr" style="top:2057.8px">istio_request_count{connection_mtls=&quot;false&quot;,destination_service=&quot;istio-policy.istio-system.svc.cluster.local&quot;,destination_version=&quot;unknown&quot;,instance=&quot;10.44.0.3:42422&quot;,job=&quot;istio-mesh&quot;,response_code=&quot;200&quot;,source_service=&quot;productpage.default.svc.cluster.local&quot;,source_version=&quot;v1&quot;}</div><svg style="position:absolute;left:176px;top:2096.8px" width="32" height="26"><path d="M7,12.5L11.5,21.5L25.5,5" fill="none" stroke="#2e3441" stroke-width="5.5" stroke-linecap="round" stroke-linejoin="round"/></svg><div class="sw" style="top:2098.2px;background:#858772"></div><div class="lr" style="top:2091.8px">istio_request_count{connection_mtls=&quot;false&quot;,destination_service=&quot;istio-policy.istio-system.svc.cluster.local&quot;,destination_version=&quot;unknown&quot;,instance=&quot;10.44.0.3:42422&quot;,job=&quot;istio-mesh&quot;,response_code=&quot;200&quot;,source_service=&quot;istio-ingressgateway.istio-system.svc.cluster.local&quot;,source_version=&quot;unknown&quot;}</div><svg style="position:absolute;left:176px;top:2130.8px" width="32" height="26"><path d="M7,12.5L11.5,21.5L25.5,5" fill="none" stroke="#2e3441" stroke-width="5.5" stroke-linecap="round" stroke-linejoin="round"/></svg><div class="sw" style="top:2132.2px;background:#785f43"></div><div class="lr" style="top:2125.8px">istio_request_count{connection_mtls=&quot;false&quot;,destination_service=&quot;istio-policy.istio-system.svc.cluster.local&quot;,destination_version=&quot;unknown&quot;,instance=&quot;10.44.0.3:42422&quot;,job=&quot;istio-mesh&quot;,response_code=&quot;200&quot;,source_service=&quot;details.default.svc.cluster.local&quot;,source_version=&quot;v1&quot;}</div><svg style="position:absolute;left:176px;top:2164.8px" width="32" height="26"><path d="M7,12.5L11.5,21.5L25.5,5" fill="none" stroke="#2e3441" stroke-width="5.5" stroke-linecap="round" stroke-linejoin="round"/></svg><div class="sw" style="top:2166.2px;background:#96557e"></div><div class="lr" style="top:2159.8px">istio_request_count{connection_mtls=&quot;false&quot;,destination_service=&quot;istio-pilot.istio-system.svc.cluster.local&quot;,destination_version=&quot;unknown&quot;,instance=&quot;10.44.0.3:42422&quot;,job=&quot;istio-mesh&quot;,response_code=&quot;200&quot;,source_service=&quot;unknown&quot;,source_version=&quot;unknown&quot;}</div><svg style="position:absolute;left:176px;top:2198.8px" width="32" height="26"><path d="M7,12.5L11.5,21.5L25.5,5" fill="none" stroke="#2e3441" stroke-width="5.5" stroke-linecap="round" stroke-linejoin="round"/></svg><div class="sw" style="top:2200.2px;background:#4682b4"></div><div class="lr" style="top:2193.8px">istio_request_count{connection_mtls=&quot;false&quot;,destination_service=&quot;istio-ingressgateway.istio-system.svc.cluster.local&quot;,destination_version=&quot;unknown&quot;,instance=&quot;10.44.0.3:42422&quot;,job=&quot;istio-mesh&quot;,response_code=&quot;503&quot;,source_service=&quot;unknown&quot;,source_version=&quot;unknown&quot;}</div><svg style="position:absolute;left:176px;top:2232.8px" width="32" height="26"><path d="M7,12.5L11.5,21.5L25.5,5" fill="none" stroke="#2e3441" stroke-width="5.5" stroke-linecap="round" stroke-linejoin="round"/></svg><div class="sw" style="top:2234.2px;background:#65b9ac"></div><div class="lr" style="top:2227.8px">istio_request_count{connection_mtls=&quot;false&quot;,destination_service=&quot;istio-ingressgateway.istio-system.svc.cluster.local&quot;,destination_version=&quot;unknown&quot;,instance=&quot;10.44.0.3:42422&quot;,job=&quot;istio-mesh&quot;,response_code=&quot;404&quot;,source_service=&quot;unknown&quot;,source_version=&quot;unknown&quot;}</div><svg style="position:absolute;left:176px;top:2266.8px" width="32" height="26"><path d="M7,12.5L11.5,21.5L25.5,5" fill="none" stroke="#2e3441" stroke-width="5.5" stroke-linecap="round" stroke-linejoin="round"/></svg><div class="sw" style="top:2268.2px;background:#73c03a"></div><div class="lr" style="top:2261.8px">istio_request_count{connection_mtls=&quot;false&quot;,destination_service=&quot;istio-ingressgateway.istio-system.svc.cluster.local&quot;,destination_version=&quot;unknown&quot;,instance=&quot;10.44.0.3:42422&quot;,job=&quot;istio-mesh&quot;,response_code=&quot;200&quot;,source_service=&quot;unknown&quot;,source_version=&quot;unknown&quot;}</div><svg style="position:absolute;left:176px;top:2300.8px" width="32" height="26"><path d="M7,12.5L11.5,21.5L25.5,5" fill="none" stroke="#2e3441" stroke-width="5.5" stroke-linecap="round" stroke-linejoin="round"/></svg><div class="sw" style="top:2302.2px;background:#cb513a"></div><div class="lr" style="top:2295.8px">istio_request_count{connection_mtls=&quot;false&quot;,destination_service=&quot;details.default.svc.cluster.local&quot;,destination_version=&quot;v1&quot;,instance=&quot;10.44.0.3:42422&quot;,job=&quot;istio-mesh&quot;,response_code=&quot;200&quot;,source_service=&quot;productpage.default.svc.cluster.local&quot;,source_version=&quot;v1&quot;}</div></div><div class="t" style="left:3122.5px;top:2376.30px;font-size:28px;color:#4379b4;">Remove Graph</div><div style="position:absolute;left:30px;top:2430px;width:187.6px;height:67.5px;background:#4379b4"></div><div class="t" style="left:55.5px;top:2450.80px;font-size:28px;color:#fff;-webkit-text-stroke:1px #fff">Add Graph</div><div style="position:absolute;left:3322px;top:1707px;width:18px;height:795px;box-sizing:border-box;background:rgba(0,0,0,0.5);border:2px solid rgba(255,255,255,0.15);border-radius:9px;background-clip:padding-box"></div>
</body></html>
